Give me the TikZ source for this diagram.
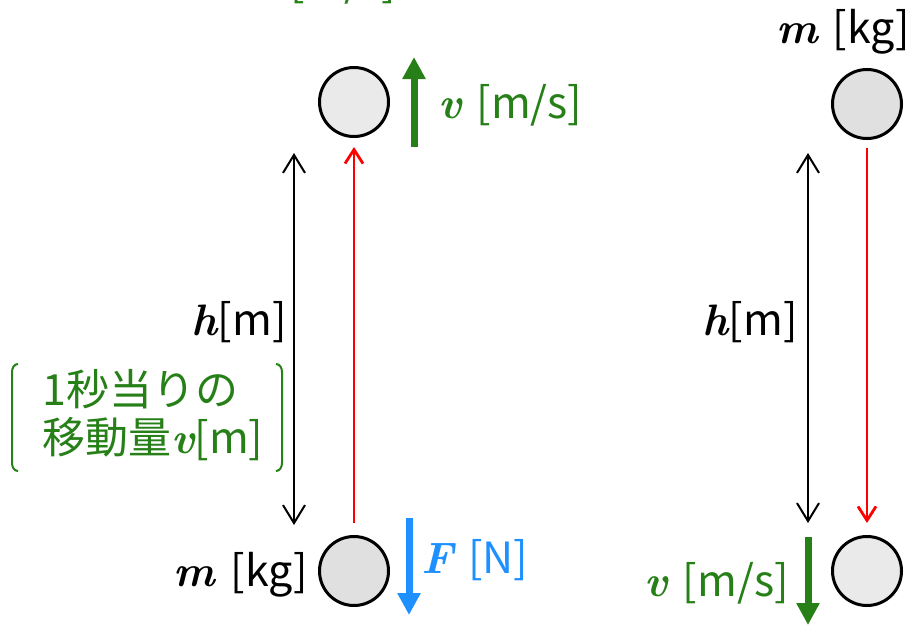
\documentclass[tikz,border=0pt]{standalone}
\usepackage{fontspec}
\setmainfont{Noto Sans CJK JP}
\newfontfamily\varfont{lmroman10-bolditalic.otf}
\usetikzlibrary{arrows.meta}
\definecolor{grn}{RGB}{38,128,23}
\definecolor{blu}{RGB}{30,144,255}
\definecolor{rd}{RGB}{255,0,0}
\definecolor{ballA}{RGB}{234,234,234}
\definecolor{ballB}{RGB}{224,224,224}
\newcommand{\mv}[1]{{\varfont\fontsize{44}{46}\selectfont #1}}
\newcommand{\gap}{\hspace{15pt}}
\begin{document}
\begin{tikzpicture}[x=1pt,y=-1pt,
  ball/.style={circle,draw=black,line width=3pt,minimum size=69pt,inner sep=0pt},
  lbl/.style={font=\fontsize{43}{48}\selectfont,inner sep=0pt},
  redarrow/.style={draw=rd,line width=2.8pt,-{Straight Barb[width=18pt,length=14pt]}},
  dimarrow/.style={draw=black,line width=2pt,{Straight Barb[width=22pt,length=18pt]}-{Straight Barb[width=22pt,length=18pt]}},
  bigarrow/.style={line width=7pt,-{Triangle[width=22pt,length=22pt]}},
  bracketline/.style={draw=grn,line width=2pt}]
\useasboundingbox (0,0) rectangle (921,637);
% top cropped title
\node[lbl,text=grn,anchor=base west] (title) at (-6,-3) {（一定の速度\mv{v}\gap[m/s]）};
% balls
\node[ball,fill=ballA] (tl) at (354,102) {};
\node[ball,fill=ballB] (bl) at (354,571) {};
\node[ball,fill=ballB] (tr) at (867,104) {};
\node[ball,fill=ballA] (br) at (867,571) {};
% red motion arrows
\draw[redarrow,shorten <=12pt,shorten >=9pt] (bl) -- (tl);
\draw[redarrow,shorten <=8pt,shorten >=12pt] (tr) -- (br);
% height arrows
\coordinate (hl1) at (294,153);
\coordinate (hl2) at (294,525);
\coordinate (hr1) at (808,153);
\coordinate (hr2) at (808,523);
\draw[dimarrow] (hl1) -- (hl2);
\draw[dimarrow] (hr1) -- (hr2);
\node[lbl,anchor=east] (hL) at (287,322) {\mv{h}[m]};
\node[lbl,anchor=east] (hR) at (798,322) {\mv{h}[m]};
% velocity / force arrows
\coordinate (vl1) at (414,147);
\coordinate (vl2) at (414,57);
\draw[bigarrow,draw=grn,fill=grn] (vl1) -- (vl2);
\node[lbl,text=grn,anchor=west] (vL) at (438,105) {\mv{v}\gap[m/s]};
\coordinate (f1) at (409,518);
\coordinate (f2) at (409,615);
\draw[bigarrow,draw=blu,fill=blu] (f1) -- (f2);
\node[lbl,text=blu,anchor=west] (fL) at (421,560) {\mv{F}\gap[N]};
\coordinate (vr1) at (808,537);
\coordinate (vr2) at (808,625);
\draw[bigarrow,draw=grn,fill=grn] (vr1) -- (vr2);
\node[lbl,text=grn,anchor=east] (vR) at (789,583) {\mv{v}\gap[m/s]};
% masses
\node[lbl,anchor=east] (mL) at (308,575) {\mv{m}\gap[kg]};
\node[lbl,anchor=east] (mR) at (910,32) {\mv{m}\gap[kg]};
% bracketed note
\node[lbl,text=grn,anchor=west] (n1) at (42,389) {1秒当りの};
\node[lbl,text=grn,anchor=west] (n2) at (42,439) {移動量\mv{v}[m]};
\draw[bracketline] (18,364) to[out=180,in=90] (12,372) -- (12,463) to[out=-90,in=180] (18,471);
\draw[bracketline] (276,364) to[out=0,in=90] (282,372) -- (282,463) to[out=-90,in=0] (276,471);
\end{tikzpicture}
\end{document}
